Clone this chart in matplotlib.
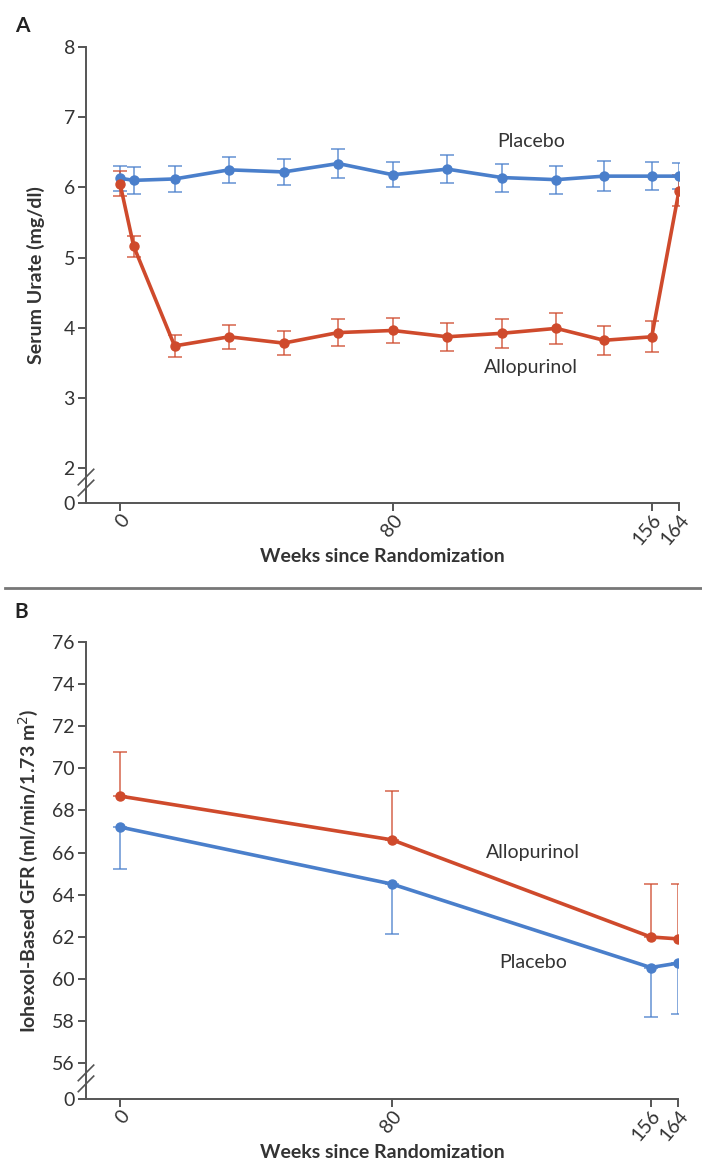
import matplotlib.pyplot as plt
import numpy as np

plt.rcParams["font.family"] = ["Lato", "DejaVu Sans"]

# Panel A: serum urate
WEEKS_A = [0, 4, 16, 32, 48, 64, 80, 96, 112, 128, 142, 156, 164]
PLACEBO_A = [6.13, 6.10, 6.12, 6.25, 6.22, 6.34, 6.18, 6.26, 6.14, 6.11, 6.16, 6.16, 6.16]
PLACEBO_A_ERR = [0.18, 0.19, 0.19, 0.19, 0.19, 0.20, 0.18, 0.20, 0.20, 0.20, 0.21, 0.20, 0.19]
ALLO_A = [6.05, 5.16, 3.74, 3.87, 3.78, 3.93, 3.96, 3.87, 3.92, 3.99, 3.82, 3.87, 5.95]
ALLO_A_ERR = [0.18, 0.15, 0.16, 0.17, 0.17, 0.19, 0.18, 0.20, 0.21, 0.22, 0.21, 0.22, 0.22]
YTICKS_A = [2, 3, 4, 5, 6, 7, 8]

# Panel B: iohexol GFR (one-sided error bars)
WEEKS_B = [0, 80, 156, 164]
ALLO_B = [68.68, 66.60, 61.99, 61.90]
ALLO_B_ERR = [2.08, 2.34, 2.53, 2.60]
PLACEBO_B = [67.21, 64.50, 60.54, 60.75]
PLACEBO_B_ERR = [1.97, 2.37, 2.36, 2.42]
YTICKS_B = [56, 58, 60, 62, 64, 66, 68, 70, 72, 74, 76]

XTICKS = [0, 80, 156, 164]

BLUE = "#4a7fcb"
RED = "#cf4a2c"
AXIS = "#555555"
TEXT = "#333333"


def style_axis(ax, y_zero, y_top, yticks):
    ax.set_xlim(-10, 164)
    ax.set_ylim(y_zero, y_top)
    for s in ["top", "right"]:
        ax.spines[s].set_visible(False)
    for s in ["left", "bottom"]:
        ax.spines[s].set_color(AXIS)
        ax.spines[s].set_linewidth(1.4)
    ax.set_yticks([y_zero] + yticks)
    ax.set_yticklabels(["0"] + [str(t) for t in yticks])
    ax.set_xticks(XTICKS)
    ax.set_xticklabels([str(t) for t in XTICKS], rotation=50,
                       ha="right", va="top", rotation_mode="anchor")
    ax.tick_params(axis="both", colors=AXIS, labelcolor=TEXT, labelsize=14,
                   width=1.4, length=6, pad=2)
    ax.tick_params(axis="x", pad=0)
    for lab in ax.get_xticklabels():
        lab.set_x(lab.get_position()[0])
    ax.set_xlabel("Weeks since Randomization", fontsize=14,
                  fontweight="bold", color=TEXT, labelpad=0)
    # axis break marks
    for dy in (-0.012, 0.012):
        ax.plot([-0.013, 0.013], [0.028 + dy, 0.062 + dy],
                transform=ax.transAxes, color=AXIS, lw=1.2, clip_on=False)


fig = plt.figure(figsize=(7.02, 11.65), dpi=100)

# ---- Panel A ----
axA = fig.add_axes([0.1225, 0.5682, 0.8447, 0.3914])
style_axis(axA, 1.5, 8, YTICKS_A)
for y, err, c in [(PLACEBO_A, PLACEBO_A_ERR, BLUE), (ALLO_A, ALLO_A_ERR, RED)]:
    axA.errorbar(WEEKS_A, y, yerr=err, fmt="none", ecolor=c, elinewidth=1.1,
                 capsize=5, capthick=1.1, alpha=0.85, zorder=2)
    axA.plot(WEEKS_A, y, color=c, lw=2.6, marker="o", ms=6.5, zorder=3)
axA.text(120.5, 6.65, "Placebo", fontsize=14, color=TEXT, ha="center", va="center")
axA.text(120.5, 3.43, "Allopurinol", fontsize=14, color=TEXT, ha="center", va="center")
axA.set_ylabel("Serum Urate (mg/dl)", fontsize=14, fontweight="bold",
               color=TEXT, labelpad=13)

# ---- Panel B ----
axB = fig.add_axes([0.1225, 0.0567, 0.8433, 0.3923])
style_axis(axB, 54.3, 76, YTICKS_B)
for y, err, c, low in [(ALLO_B, ALLO_B_ERR, RED, False),
                       (PLACEBO_B, PLACEBO_B_ERR, BLUE, True)]:
    yerr = [err, [0] * len(err)] if low else [[0] * len(err), err]
    axB.errorbar(WEEKS_B, y, yerr=yerr, fmt="none", ecolor=c, elinewidth=1.1,
                 capsize=5, capthick=1.1, alpha=0.85, zorder=2)
    axB.plot(WEEKS_B, y, color=c, lw=2.6, marker="o", ms=6.5, zorder=3)
axB.text(121.5, 65.99, "Allopurinol", fontsize=14, color=TEXT, ha="center", va="center")
axB.text(121.5, 60.8, "Placebo", fontsize=14, color=TEXT, ha="center", va="center")
axB.set_ylabel("Iohexol-Based GFR (ml/min/1.73 m$^2$)", fontsize=14,
               fontweight="bold", color=TEXT, labelpad=9)

# panel letters and separator
fig.text(0.021, 0.978, "A", fontsize=15, fontweight="bold", color="#222222", va="center")
fig.text(0.021, 0.475, "B", fontsize=15, fontweight="bold", color="#222222", va="center")
fig.add_artist(plt.Line2D([0.007, 1.0], [1 - 588 / 1165] * 2,
                          color="#777777", lw=2))

fig.savefig("out.png", dpi=100)
